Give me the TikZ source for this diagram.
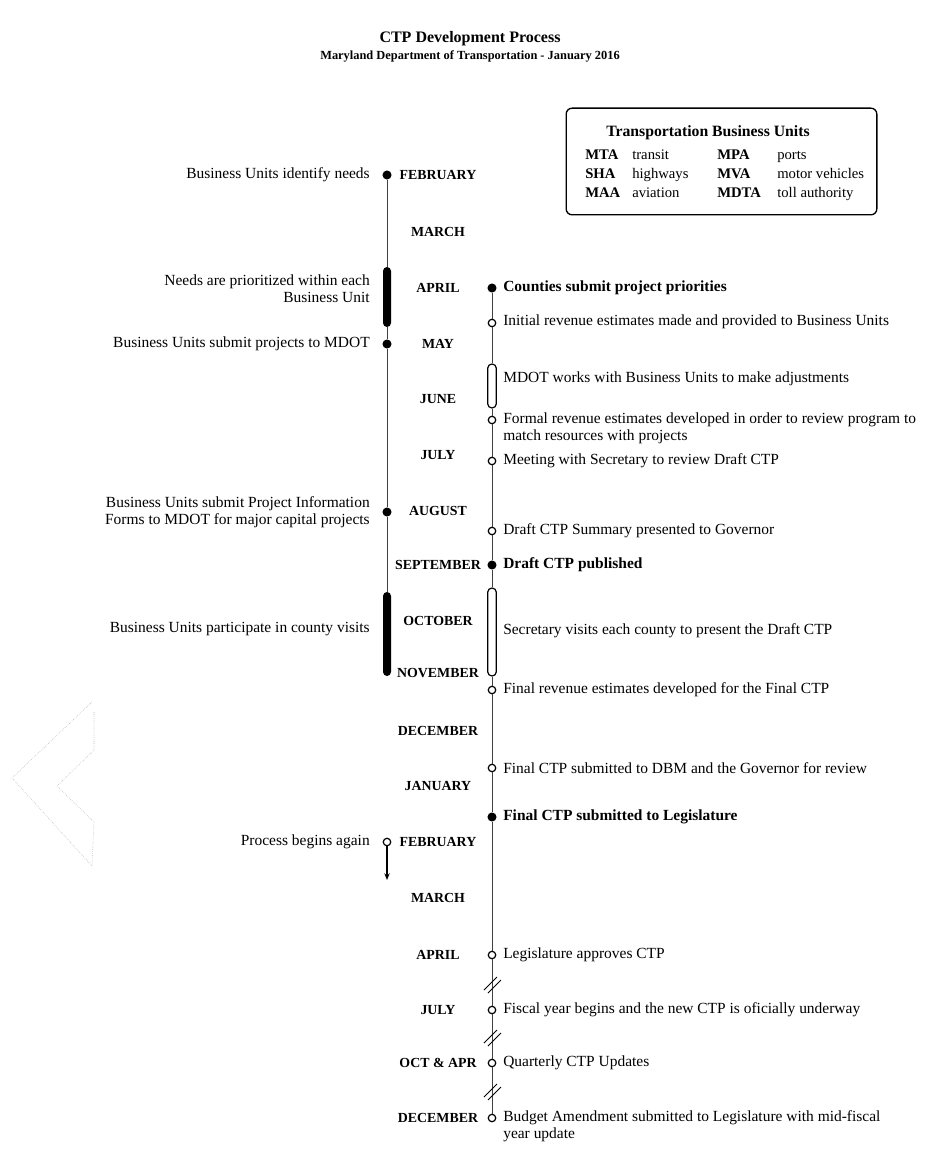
\documentclass[tikz,border=0pt]{standalone}
\usepackage{fontspec}
\setmainfont{Liberation Serif}
\usetikzlibrary{arrows.meta,positioning}

\begin{document}
\begin{tikzpicture}[x=0.75pt, y=-0.75pt, >=Stealth,
  every node/.style={font=\fontsize{11.6}{12.8}\selectfont, inner sep=0pt},
  month/.style={font=\fontsize{10.4}{12}\selectfont\bfseries},
  ltxt/.style={anchor=east, align=right},
  rtxt/.style={anchor=west, align=left},
  key/.style={anchor=base west, font=\fontsize{11}{13}\selectfont\bfseries},
  keytxt/.style={anchor=base west, font=\fontsize{11}{13}\selectfont},
  dot/.style={circle, fill, minimum size=6.8pt},
  hole/.style={circle, draw, fill=white, line width=0.9pt, minimum size=5.6pt},
  bar/.style={fill, rounded corners=3pt, minimum width=6pt},
  pill/.style={draw, fill=white, rounded corners=3.2pt, line width=0.9pt,
               minimum width=6.5pt},
  tline/.style={line width=0.5pt, black!75},
  brk/.style={line width=0.6pt}]

  \useasboundingbox (0,0) rectangle (940,1151);

  % ---- Heading ----
  \node[font=\fontsize{12}{14}\selectfont\bfseries] (title) at (470,39)
    {CTP Development Process};
  \node[font=\fontsize{9.3}{11}\selectfont\bfseries] (subtitle) at (470,56)
    {Maryland Department of Transportation - January 2016};

  % ---- Legend box ----
  \node[draw, rounded corners=4.5pt, line width=1pt,
        minimum width=233pt, minimum height=80pt] (legend) at (721.5,161.5) {};
  \node[font=\fontsize{11.8}{13}\selectfont\bfseries] (lhead) at (708,133)
    {Transportation Business Units};
  \node[key]    (k1) at (585,160) {MTA};  \node[keytxt] (d1) at (632,160) {transit};
  \node[key]    (k2) at (717,160) {MPA};  \node[keytxt] (d2) at (777,160) {ports};
  \node[key]    (k3) at (585,179) {SHA};  \node[keytxt] (d3) at (632,179) {highways};
  \node[key]    (k4) at (717,179) {MVA};  \node[keytxt] (d4) at (777,179) {motor vehicles};
  \node[key]    (k5) at (585,198) {MAA};  \node[keytxt] (d5) at (632,198) {aviation};
  \node[key]    (k6) at (717,198) {MDTA}; \node[keytxt] (d6) at (777,198) {toll authority};

  % ---- Months ----
  \node[month] (m1)  at (438,175)  {FEBRUARY};
  \node[month] (m2)  at (438,232)  {MARCH};
  \node[month] (m3)  at (438,288)  {APRIL};
  \node[month] (m4)  at (438,344)  {MAY};
  \node[month] (m5)  at (438,399)  {JUNE};
  \node[month] (m6)  at (438,455)  {JULY};
  \node[month] (m7)  at (438,511)  {AUGUST};
  \node[month] (m8)  at (438,565)  {SEPTEMBER};
  \node[month] (m9)  at (438,621)  {OCTOBER};
  \node[month] (m10) at (438,673)  {NOVEMBER};
  \node[month] (m11) at (438,731)  {DECEMBER};
  \node[month] (m12) at (438,786)  {JANUARY};
  \node[month] (m13) at (438,842)  {FEBRUARY};
  \node[month] (m14) at (438,898)  {MARCH};
  \node[month] (m15) at (438,955)  {APRIL};
  \node[month] (m16) at (438,1010) {JULY};
  \node[month] (m17) at (438,1063) {OCT \& APR};
  \node[month] (m18) at (438,1118) {DECEMBER};

  % ---- Business Units (left line) ----
  \node[dot] (l1) at (387,175) {};
  \node[bar, minimum height=45pt] (l2) at (387,297) {};
  \node[dot] (l3) at (387,344) {};
  \node[dot] (l4) at (387,512) {};
  \node[bar, minimum height=63pt] (l5) at (387,634) {};
  \node[hole] (l6) at (387,842) {};
  \coordinate (l6end) at (387,880);

  \node[ltxt] (tl1) at (370,175) {Business Units identify needs};
  \node[ltxt] (tl2) at (370,289) {Needs are prioritized within each\\Business Unit};
  \node[ltxt] (tl3) at (370,344) {Business Units submit projects to MDOT};
  \node[ltxt] (tl4) at (370,512) {Business Units submit Project Information\\Forms to MDOT for major capital projects};
  \node[ltxt] (tl5) at (370,629) {Business Units participate in county visits};
  \node[ltxt] (tl6) at (370,842) {Process begins again};

  % ---- MDOT and counties (right line) ----
  \node[dot]  (r1)  at (492,288)  {};
  \node[hole] (r2)  at (492,323)  {};
  \node[pill, minimum height=33pt] (r3) at (492,386) {};
  \node[hole] (r4)  at (492,420)  {};
  \node[hole] (r5)  at (492,461)  {};
  \node[hole] (r6)  at (492,531)  {};
  \node[dot]  (r7)  at (492,565)  {};
  \node[pill, minimum height=66pt] (r8) at (492,632) {};
  \node[hole] (r9)  at (492,690)  {};
  \node[hole] (r10) at (492,768)  {};
  \node[dot]  (r11) at (492,817)  {};
  \node[hole] (r12) at (492,955)  {};
  \node[hole] (r13) at (492,1010) {};
  \node[hole] (r14) at (492,1063) {};
  \node[hole] (r15) at (492,1118) {};

  \node[rtxt, font=\fontsize{11.6}{12.8}\selectfont\bfseries] (tr1) at (503,288)
    {Counties submit project priorities};
  \node[rtxt] (tr2)  at (503,322)  {Initial revenue estimates made and provided to Business Units};
  \node[rtxt] (tr3)  at (503,379)  {MDOT works with Business Units to make adjustments};
  \node[rtxt] (tr4)  at (503,428)  {Formal revenue estimates developed in order to review program to\\match resources with projects};
  \node[rtxt] (tr5)  at (503,461)  {Meeting with Secretary to review Draft CTP};
  \node[rtxt] (tr6)  at (503,531)  {Draft CTP Summary presented to Governor};
  \node[rtxt, font=\fontsize{11.6}{12.8}\selectfont\bfseries] (tr7) at (503,565)
    {Draft CTP published};
  \node[rtxt] (tr8)  at (503,631)  {Secretary visits each county to present the Draft CTP};
  \node[rtxt] (tr9)  at (503,690)  {Final revenue estimates developed for the Final CTP};
  \node[rtxt] (tr10) at (503,768)  {Final CTP submitted to DBM and the Governor for review};
  \node[rtxt, font=\fontsize{11.6}{12.8}\selectfont\bfseries] (tr11) at (503,817)
    {Final CTP submitted to Legislature};
  \node[rtxt] (tr12) at (503,955)  {Legislature approves CTP};
  \node[rtxt] (tr13) at (503,1010) {Fiscal year begins and the new CTP is oficially underway};
  \node[rtxt] (tr14) at (503,1063) {Quarterly CTP Updates};
  \node[rtxt] (tr15) at (503,1126) {Budget Amendment submitted to Legislature with mid-fiscal\\year update};

  % ---- Timeline lines ----
  \foreach \a/\b in {l1/l2, l2/l3, l3/l4, l4/l5}
    \draw[tline] (\a) -- (\b);
  \foreach \a/\b in {r1/r2, r2/r3, r3/r4, r4/r5, r5/r6, r6/r7, r7/r8, r8/r9,
                     r9/r10, r10/r11, r11/r12, r12/r13, r13/r14, r14/r15}
    \draw[tline] (\a) -- (\b);

  % ---- Restart arrow ----
  \draw[-{Stealth[length=5pt,width=4pt]}, line width=0.9pt] (l6) -- (l6end);

  % ---- Breaks in the time scale ----
  \coordinate (b1) at (492,983);
  \coordinate (b2) at (492,1036);
  \coordinate (b3) at (492,1090);
  \foreach \b in {b1,b2,b3} {
    \draw[brk] (\b) ++(-8,7) -- ++(13,-13);
    \draw[brk] (\b) ++(-4,10) -- ++(13,-13);
  }

  % ---- faint chevron at the left edge ----
  \draw[densely dotted, gray!55, line width=0.45pt]
    (92,702) -- (12,778) -- (92,866) -- (94,822) -- (57,786) -- (94,750) -- (94,712);
\end{tikzpicture}
\end{document}
